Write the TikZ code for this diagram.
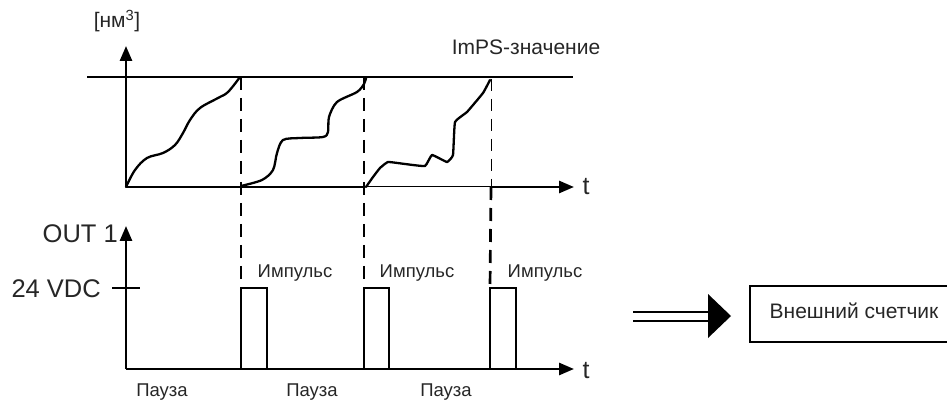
\documentclass[tikz,border=0pt]{standalone}
\usepackage{fontspec}
\setmainfont{Liberation Sans}
\usetikzlibrary{arrows.meta}
\tikzset{
  ax/.style={line width=2.7pt,-{Triangle[length=15pt,width=12pt]}},
  thickline/.style={line width=2.7pt},
  dashline/.style={line width=2.7pt,dash pattern=on 13pt off 8pt},
  thindash/.style={line width=1pt,dash pattern=on 12pt off 8pt},
  curve/.style={line width=2.3pt,line join=round,line cap=round},
  pulse/.style={line width=2.3pt},
  small/.style={font=\fontsize{18.5}{20}\selectfont,inner sep=0pt,text=black!85},
  mid/.style={font=\fontsize{21}{23}\selectfont,inner sep=0pt,text=black!85},
  big/.style={font=\fontsize{25.5}{27}\selectfont,inner sep=0pt,text=black!85},
  tlab/.style={font=\fontsize{25}{27}\selectfont,inner sep=0pt,text=black!85},
}
\begin{document}
\begin{tikzpicture}[x=1pt,y=-1pt]
\useasboundingbox (0,0) rectangle (947,403);
% ---- top chart ----
\coordinate (o1) at (126,187);
\coordinate (y1) at (126,46);
\coordinate (x1) at (574,187);
\coordinate (impL) at (87,77);
\coordinate (impR) at (573,77);
\coordinate (d1) at (241,187);
\coordinate (d2) at (365,187);
\coordinate (d3) at (491,187);
\draw[ax] (o1) -- (y1);
\draw[thickline] (impL) -- (impR);
\draw[thickline] (o1) -- (d2);
\draw[line width=1pt] (d2) -- (d3);
\draw[ax] (d3) -- (x1);
\node[tlab,anchor=base] (t1) at (586,195) {t};
\node[mid,anchor=base] (unit) at (117,28) {[нм\textsuperscript{3}]};
\node[mid,anchor=base] (imps) at (526,55) {ImPS-значение};
% curves
\draw[curve] plot[smooth,tension=0.6] coordinates {(126,187) (135,170) (147,158) (163,153) (175,145) (183,133) (190,120) (200,108) (218,98) (228,92) (240,77)};
\draw[curve] plot[smooth,tension=0.5] coordinates {(241,186) (262,180) (273,170) (277,153) (283,140) (300,138) (323,137) (328,132) (329,117) (337,102) (357,92) (364,84) (366,78)};
\draw[curve] plot[smooth,tension=0.2] coordinates {(366,187) (373,177) (380,168) (388,162) (405,164) (425,166) (432,155) (447,162) (453,155) (455,122) (467,112) (483,93) (490,80)};
% dashed separators
\coordinate (p1t) at (241,288);
\coordinate (p2t) at (364,288);
\coordinate (p3t) at (490,288);
\draw[dashline] (241,77) -- (p1t);
\draw[dashline] (364,77) -- (p2t);
\draw[thindash] (491,79) -- (d3);
\draw[dashline] (d3) -- (p3t);
% ---- bottom chart ----
\coordinate (o2) at (126,369);
\coordinate (y2) at (126,226);
\coordinate (x2) at (574,369);
\draw[ax] (o2) -- (y2);
\draw[ax] (o2) -- (x2);
\draw[thickline] (112,288) -- (140,288);
\node[tlab,anchor=base] (t2) at (586,378) {t};
\node[big,anchor=base east] (out) at (118,243) {OUT 1};
\node[big,anchor=base east] (vdc) at (101,297) {24 VDC};
% pulses
\draw[pulse] (p1t) rectangle (267,369);
\draw[pulse] (p2t) rectangle (389,369);
\draw[pulse] (p3t) rectangle (516,369);
\node[small,anchor=base] (i1) at (295,277) {Импульс};
\node[small,anchor=base] (i2) at (417,277) {Импульс};
\node[small,anchor=base] (i3) at (545,277) {Импульс};
\node[small,anchor=base] (pa1) at (162,396) {Пауза};
\node[small,anchor=base] (pa2) at (312,396) {Пауза};
\node[small,anchor=base] (pa3) at (446,396) {Пауза};
% ---- external counter ----
\draw[line width=2.3pt] (965,286) -- (750,286) -- (750,342) -- (965,342);
\node[mid,anchor=base] (counter) at (854,318) {Внешний счетчик};
\coordinate (arS) at (633,316);
\coordinate (arE) at (708,316);
\draw[line width=2pt] ([yshift=-4.5pt]arS) -- ([yshift=-4.5pt]arE);
\draw[line width=2pt] ([yshift=4.5pt]arS) -- ([yshift=4.5pt]arE);
\fill ([yshift=-22pt]arE) -- ([xshift=23pt]arE) -- ([yshift=22pt]arE) -- cycle;
\end{tikzpicture}
\end{document}
